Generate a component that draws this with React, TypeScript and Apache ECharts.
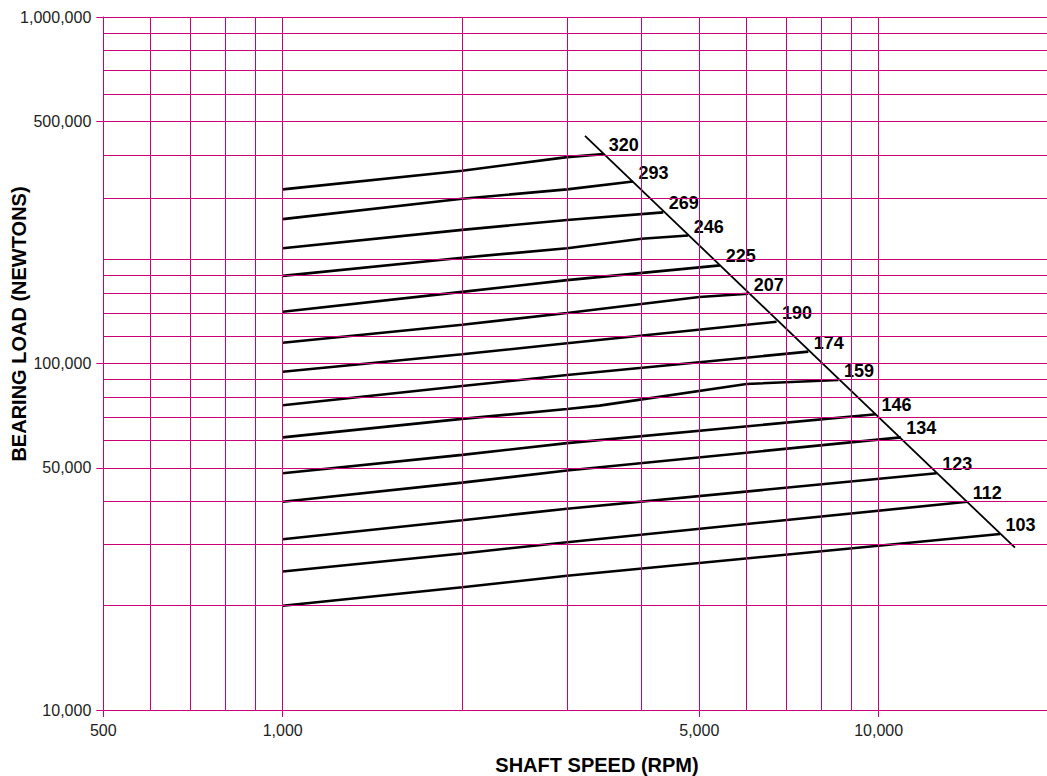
import React, { useEffect, useRef } from 'react';
import * as echarts from 'echarts';

// Axis tick labels
const xTickValues = [500, 1000, 5000, 10000];
const yTickValues = [10000, 50000, 100000, 500000, 1000000];

// Grid line values
const xGridValues = [600, 700, 800, 900, 1000, 2000, 3000, 4000, 5000, 6000, 7000, 8000, 9000, 10000];
const yGridValues = [
  20000, 30000, 40000, 50000, 60000, 70000, 80000, 90000, 100000,
  120000, 140000, 160000, 180000, 200000, 300000, 400000, 500000,
  600000, 700000, 800000, 900000, 1000000,
];

// Curve labels
const curveLabels = ['320', '293', '269', '246', '225', '207', '190', '174', '159', '146', '134', '123', '112', '103'];

// Curve points [rpm, load N]
const c320 = [[1000, 318000], [2000, 360000], [3000, 394000], [3450, 402000]];
const c293 = [[1000, 261000], [2000, 299000], [3000, 318000], [3870, 335000]];
const c269 = [[1000, 215000], [2000, 243000], [3000, 259500], [4350, 273000]];
const c246 = [[1000, 179000], [2000, 202000], [3000, 215000], [4000, 229000], [4790, 234000]];
const c225 = [[1000, 141000], [2000, 161000], [3000, 174000], [5420, 192000]];
const c207 = [[1000, 114800], [2000, 129400], [3000, 139900], [5000, 155600], [6040, 159000]];
const c190 = [[1000, 94700], [2000, 106300], [3000, 114400], [6740, 132000]];
const c174 = [[1000, 75800], [2000, 86100], [3000, 92600], [7620, 108200]];
const c159 = [[1000, 61200], [2000, 69200], [3000, 73900], [3400, 75600], [6000, 87300], [8560, 89600]];
const c146 = [[1000, 48200], [2000, 54500], [3000, 58900], [9900, 71400]];
const c134 = [[1000, 39900], [2000, 45300], [3000, 49100], [10890, 61200]];
const c123 = [[1000, 31100], [2000, 35300], [3000, 38100], [12510, 48200]];
const c112 = [[1000, 25100], [2000, 28300], [3000, 30500], [14080, 39900]];
const c103 = [[1000, 20000], [2000, 22600], [3000, 24400], [15980, 32200]];

const curves = [c320, c293, c269, c246, c225, c207, c190, c174, c159, c146, c134, c123, c112, c103];

// Diagonal limit line
const envelope = [[3215, 453600], [16930, 29400]];

const MAGENTA = '#c8007a';
const FONT = "'Liberation Sans', Arial, Helvetica, sans-serif";
const fmt = (v: number) => Math.round(v).toLocaleString('en-US');

function buildOption() {
  const series: any[] = [];

  series.push({
    type: 'line',
    name: 'grid',
    data: [[1000, 20000]],
    symbol: 'none',
    lineStyle: { opacity: 0 },
    silent: true,
    z: 1,
    markLine: {
      silent: true,
      animation: false,
      symbol: ['none', 'none'],
      label: { show: false },
      emphasis: { disabled: true },
      lineStyle: { color: MAGENTA, width: 1, type: 'solid' },
      data: [
        ...xGridValues.map((v) => ({ xAxis: v })),
        ...yGridValues.map((v) => ({ yAxis: v })),
      ],
    },
  });

  curves.forEach((pts, i) => {
    series.push({
      type: 'line',
      name: curveLabels[i],
      data: pts,
      symbol: 'none',
      silent: true,
      z: 3,
      lineStyle: { color: '#000', width: 2.6 },
    });
  });

  series.push({
    type: 'line',
    name: 'limit',
    data: envelope,
    symbol: 'none',
    silent: true,
    z: 3,
    lineStyle: { color: '#000', width: 1.8 },
  });

  series.push({
    type: 'scatter',
    name: 'labels',
    silent: true,
    z: 4,
    symbol: 'circle',
    symbolSize: 1,
    itemStyle: { color: 'rgba(0,0,0,0)' },
    data: curves.map((pts, i) => ({ name: curveLabels[i], value: pts[pts.length - 1] })),
    label: {
      show: true,
      position: 'right',
      distance: 5,
      offset: [0, -9],
      formatter: '{b}',
      color: '#000',
      opacity: 1,
      textBorderWidth: 0,
      fontSize: 18,
      fontWeight: 'bold',
      fontFamily: FONT,
    },
  });

  return {
    animation: false,
    grid: {
      left: 103.3,
      top: 17,
      bottom: 66,
      right: -11.1,
      containLabel: false,
      outerBoundsMode: 'none',
    },
    xAxis: {
      type: 'log',
      logBase: 10,
      min: 500,
      max: 20000,
      axisLine: { show: true, lineStyle: { color: MAGENTA, width: 1 } },
      axisTick: { show: true, length: 7, customValues: xTickValues, lineStyle: { color: MAGENTA, width: 1 } },
      axisLabel: {
        customValues: xTickValues,
        formatter: fmt,
        margin: 12,
        fontSize: 16,
        color: '#222',
        fontFamily: FONT,
      },
      splitLine: { show: false },
      minorTick: { show: false },
      minorSplitLine: { show: false },
    },
    yAxis: {
      type: 'log',
      logBase: 10,
      min: 10000,
      max: 1000000,
      axisLine: { show: true, lineStyle: { color: MAGENTA, width: 1 } },
      axisTick: { show: true, length: 7, customValues: yTickValues, lineStyle: { color: MAGENTA, width: 1 } },
      axisLabel: {
        customValues: yTickValues,
        formatter: fmt,
        margin: 12,
        fontSize: 16,
        color: '#222',
        fontFamily: FONT,
      },
      splitLine: { show: false },
      minorTick: { show: false },
      minorSplitLine: { show: false },
    },
    graphic: [
      {
        type: 'text',
        x: 597,
        y: 765,
        silent: true,
        style: {
          text: 'SHAFT SPEED (RPM)',
          fill: '#000',
          font: `bold 20px ${FONT}`,
          align: 'center',
          verticalAlign: 'middle',
          textAlign: 'center',
          textVerticalAlign: 'middle',
        },
      },
      {
        type: 'text',
        x: 19,
        y: 324,
        rotation: Math.PI / 2,
        silent: true,
        style: {
          text: 'BEARING LOAD (NEWTONS)',
          fill: '#000',
          font: `bold 20px ${FONT}`,
          align: 'center',
          verticalAlign: 'middle',
          textAlign: 'center',
          textVerticalAlign: 'middle',
        },
      },
    ],
    series,
  };
}

export default function App() {
  const ref = useRef<HTMLDivElement>(null);
  useEffect(() => {
    document.body.style.margin = '0';
    const chart = echarts.init(ref.current as HTMLDivElement, null, { renderer: 'svg' });
    chart.setOption(buildOption() as any);
    return () => {
      chart.dispose();
    };
  }, []);
  return <div ref={ref} style={{ width: 1047, height: 776, position: 'fixed', left: 0, top: 0, background: '#fff' }} />;
}
